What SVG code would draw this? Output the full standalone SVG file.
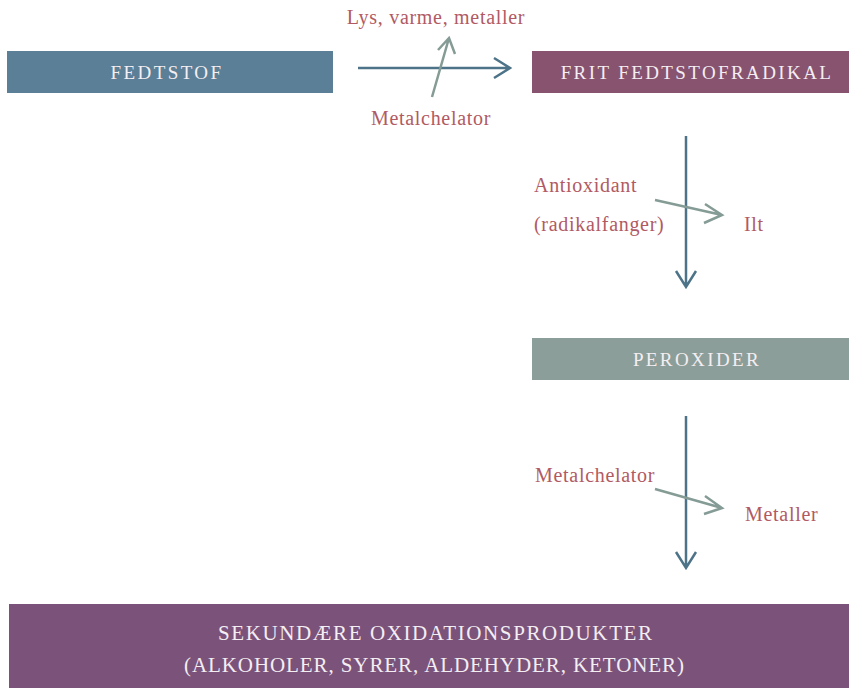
<svg xmlns="http://www.w3.org/2000/svg" width="849" height="688" viewBox="0 0 849 688">
<defs>
<style>
.box-text{font-family:"Liberation Serif","DejaVu Serif",serif;font-size:19px;fill:#f4eef2;text-anchor:middle;letter-spacing:2.4px}
.big-text{font-family:"Liberation Serif","DejaVu Serif",serif;font-size:21px;fill:#f4eef2;text-anchor:middle}
.lbl{font-family:"Liberation Serif","DejaVu Serif",serif;font-size:20px;fill:#b15a63;letter-spacing:0.7px}
.main{stroke:#4d7389;stroke-width:2.5;fill:none}
.side{stroke:#859b95;stroke-width:2.5;fill:none}
</style>
</defs>
<rect width="849" height="688" fill="#ffffff"/>
<g id="fedtstof">
<rect x="7" y="51" width="326" height="42" fill="#5b7f96"/>
<text class="box-text" x="167" y="79">FEDTSTOF</text>
</g>
<g id="frit">
<rect x="532" y="51" width="317" height="42" fill="#87536f"/>
<text class="box-text" x="697" y="79">FRIT FEDTSTOFRADIKAL</text>
</g>
<g id="peroxider">
<rect x="532" y="338" width="317" height="42" fill="#8c9e99"/>
<text class="box-text" x="697" y="366">PEROXIDER</text>
</g>
<g id="sekundaere">
<rect x="9" y="604" width="840" height="84" fill="#7a527a"/>
<text class="big-text" x="435" y="640" textLength="434" lengthAdjust="spacing">SEKUNDÆRE OXIDATIONSPRODUKTER</text>
<text class="big-text" x="434" y="672" textLength="500" lengthAdjust="spacing">(ALKOHOLER, SYRER, ALDEHYDER, KETONER)</text>
</g>
<g id="connectors">
<path class="main" d="M358,68 H510 M494,58 L510,68 L494,78"/>
<path class="side" d="M432,97 L449,38 M438,50 L449,38 L455,54"/>
<path class="main" d="M686,136 V287 M676,271 L686,287 L696,271"/>
<path class="side" d="M655,200 L722,215 M705,204 L722,215 L704,223"/>
<path class="main" d="M686,416 V568 M676,552 L686,568 L696,552"/>
<path class="side" d="M655,489 L722,508 M705,496 L722,508 L704,514"/>
</g>
<g id="labels">
<text class="lbl" x="436" y="24" text-anchor="middle">Lys, varme, metaller</text>
<text class="lbl" x="431" y="125" text-anchor="middle">Metalchelator</text>
<text class="lbl" x="534" y="192">Antioxidant</text>
<text class="lbl" x="534" y="231">(radikalfanger)</text>
<text class="lbl" x="744" y="231">Ilt</text>
<text class="lbl" x="535" y="482">Metalchelator</text>
<text class="lbl" x="745" y="521">Metaller</text>
</g>
</svg>
